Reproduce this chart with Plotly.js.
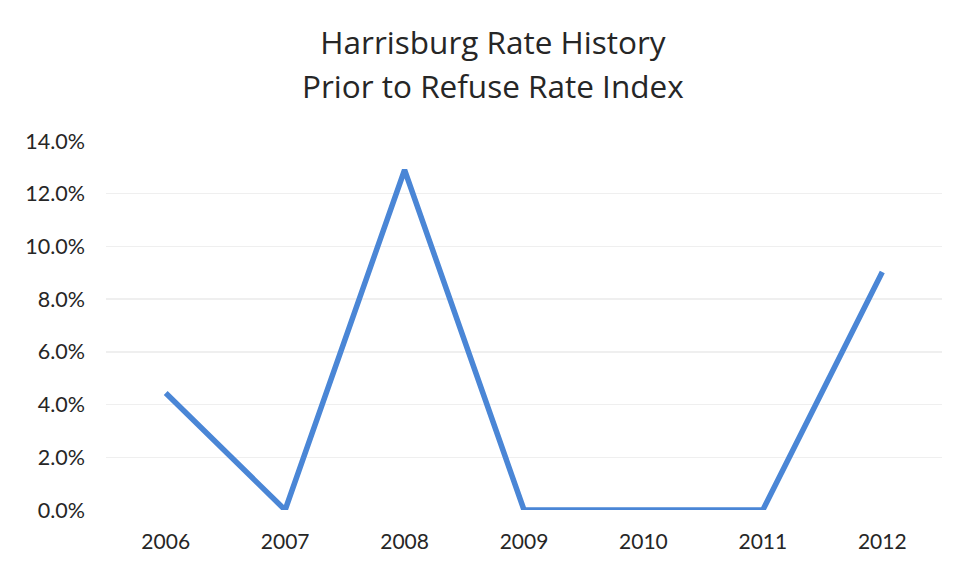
<!DOCTYPE html>
<html>
<head>
<meta charset="utf-8">
<script src="https://cdn.plot.ly/plotly-3.0.1.min.js"></script>
<style>html,body{margin:0;padding:0;background:#fff;}#chart{width:962px;height:571px;}</style>
</head>
<body>
<div id="chart"></div>
<script>
const years = ["2006", "2007", "2008", "2009", "2010", "2011", "2012"];
const rates = [0.0444, 0.0, 0.129, 0.0, 0.0, 0.0, 0.0903];
const yTicks = [0, 0.02, 0.04, 0.06, 0.08, 0.10, 0.12, 0.14];
const titleLine1 = "Harrisburg Rate History";
const titleLine2 = "Prior to Refuse Rate Index";

const font = "Lato, 'Open Sans', sans-serif";
const titleFont = "'Open Sans', Lato, sans-serif";
const trace = {
  x: years, y: rates, type: "scatter", mode: "lines",
  line: {color: "#4a86d6", width: 5.5},
  hoverinfo: "x+y"
};
const layout = {
  width: 962, height: 571,
  margin: {l: 106, r: 20, t: 141, b: 61},
  paper_bgcolor: "#fff", plot_bgcolor: "#fff",
  showlegend: false,
  font: {family: font, color: "#262626"},
  title: {text: titleLine1, font: {size: 31.5, color: "#262626", family: titleFont},
          x: 493/962, xanchor: "center", y: 1 - 43/571, yanchor: "middle", yref: "container"},
  annotations: [{text: titleLine2, showarrow: false, xref: "paper", yref: "paper",
    x: (493-106)/836, y: 1 + (141-86)/369, xanchor: "center", yanchor: "middle",
    font: {size: 31.5, color: "#262626", family: titleFont}}],
  xaxis: {type: "category", range: [-0.5, 6.5], showgrid: false, zeroline: false, showline: false,
    ticks: "", ticklabelstandoff: 17, tickfont: {size: 21, color: "#262626"}},
  yaxis: {range: [0, 0.14], tickvals: yTicks, tickformat: ".1%", showgrid: true,
    gridcolor: "#efefef", gridwidth: 1.5, zeroline: false, showline: false, ticks: "",
    ticklabelstandoff: 20, tickfont: {size: 21.5, color: "#262626"}}
};
Plotly.newPlot("chart", [trace], layout, {displayModeBar: false, staticPlot: true});
</script>
</body>
</html>
